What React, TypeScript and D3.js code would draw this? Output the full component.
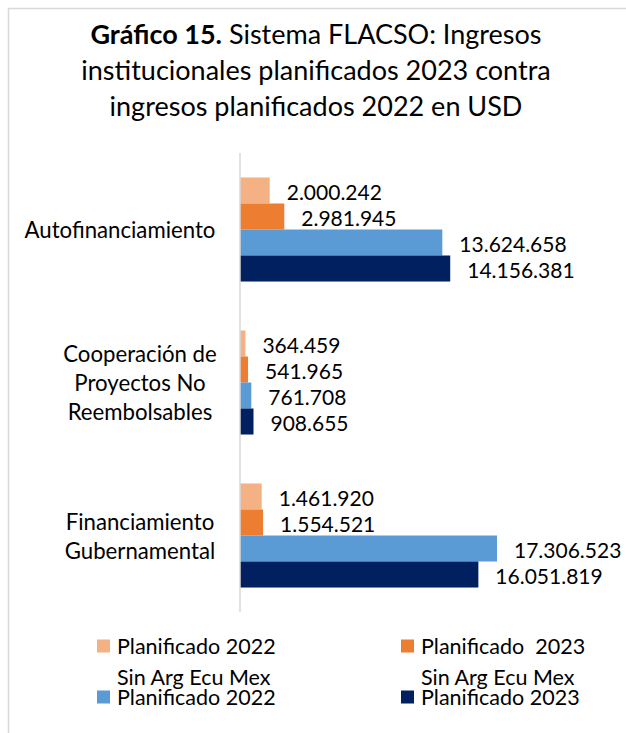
import * as d3 from 'd3'

const WIDTH = 626
const HEIGHT = 733
const FONT = 'Lato, "Open Sans", sans-serif'

const categories = [
  ['Autofinanciamiento'],
  ['Cooperación de', 'Proyectos No', 'Reembolsables'],
  ['Financiamiento', 'Gubernamental'],
]
const seriesNames = [
  ['Planificado 2022'],
  ['Planificado  2023'],
  ['Sin Arg Ecu Mex', 'Planificado 2022'],
  ['Sin Arg Ecu Mex', 'Planificado 2023'],
]
const seriesColors = ['#F4B183', '#ED7D31', '#5B9BD5', '#002060']
const plan2022 = [2000242, 364459, 1461920]
const plan2023 = [2981945, 541965, 1554521]
const sinPlan2022 = [13624658, 761708, 17306523]
const sinPlan2023 = [14156381, 908655, 16051819]
const seriesValues = [plan2022, plan2023, sinPlan2022, sinPlan2023]

// label block centres: each wrapped block is right aligned, its lines centred
const LABEL_CENTER = [120, 140, 140]

const fmt = (v: number) => d3.format(',')(v).replace(/,/g, '.')

export default function App() {
  const x = d3.scaleLinear().domain([0, 20000000]).range([240, 537])
  const y = d3
    .scaleBand<number>()
    .domain(d3.range(categories.length))
    .range([153, 612])
    .paddingInner(0.32)
    .paddingOuter(0.16)
  const inner = d3
    .scaleBand<number>()
    .domain(d3.range(seriesNames.length))
    .range([0, y.bandwidth()])

  return (
    <div style={{ position: 'absolute', left: 0, top: 0 }}>
      <svg width={WIDTH} height={HEIGHT} style={{ display: 'block', background: '#fff' }} fontFamily={FONT}>
        <path d={`M8.5,${HEIGHT}V8.5H${WIDTH}`} fill="none" stroke="#d9d9d9" strokeWidth={1.5} />

        <text textAnchor="middle" fontSize={27} fill="#000" dominantBaseline="central">
          <tspan x={316} y={33}>
            <tspan fontWeight={700}>Gráfico 15.</tspan> Sistema FLACSO: Ingresos
          </tspan>
          <tspan x={316} y={69}>institucionales planificados 2023 contra</tspan>
          <tspan x={316} y={105}>ingresos planificados 2022 en USD</tspan>
        </text>

        {seriesValues.map((vals, s) =>
          vals.map((v, c) => {
            const top = (y(c) ?? 0) + (inner(s) ?? 0)
            return (
              <g key={`${s}-${c}`}>
                <rect
                  x={x(0)}
                  y={top}
                  width={x(v) - x(0)}
                  height={inner.bandwidth()}
                  fill={seriesColors[s]}
                />
                <text
                  x={x(v) + 17}
                  y={top + inner.bandwidth() / 2 + 1}
                  dominantBaseline="central"
                  fontSize={21}
                  fill="#000"
                >
                  {fmt(v)}
                </text>
              </g>
            )
          }),
        )}

        <line x1={240} x2={240} y1={153} y2={612} stroke="#d9d9d9" strokeWidth={1.5} />

        {categories.map((lines, c) => {
          const mid = (y(c) ?? 0) + y.bandwidth() / 2
          return (
            <text key={c} textAnchor="middle" fontSize={22.2} fill="#000">
              {lines.map((line, i) => (
                <tspan
                  key={i}
                  x={LABEL_CENTER[c]}
                  y={mid + (i - (lines.length - 1) / 2) * 29}
                  dominantBaseline="central"
                >
                  {line}
                </tspan>
              ))}
            </text>
          )
        })}

        {seriesNames.map((lines, s) => {
          const col = s % 2
          const row = Math.floor(s / 2)
          const sx = col === 0 ? 97 : 401
          const sy = row === 0 ? 646 : 697
          return (
            <g key={s}>
              <rect x={sx} y={sy - 6.5} width={13} height={13} fill={seriesColors[s]} />
              <text fontSize={21.5} fill="#000" style={{ whiteSpace: 'pre' }}>
                {lines.map((line, i) => (
                  <tspan
                    key={i}
                    x={sx + 20}
                    y={sy - (lines.length - 1 - i) * 20.5}
                    dominantBaseline="central"
                  >
                    {line}
                  </tspan>
                ))}
              </text>
            </g>
          )
        })}
      </svg>
    </div>
  )
}
